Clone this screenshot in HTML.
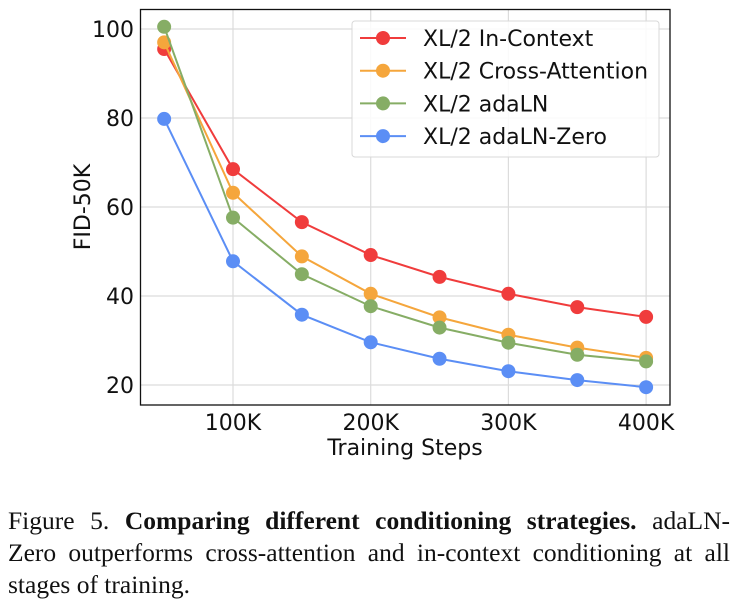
<!DOCTYPE html>
<html><head><meta charset="utf-8"><style>
body{margin:0;background:#fff;width:738px;height:608px;overflow:hidden;position:relative}
svg text{font-family:"DejaVu Sans","Liberation Sans",sans-serif}
#cap{position:absolute;left:8px;top:505px;width:722px;font-family:"Liberation Serif",serif;font-size:25.5px;line-height:32px;color:#111}
#cap .j{text-align:justify;text-align-last:justify;white-space:nowrap}
</style></head><body>
<svg id="chart" width="738" height="470" style="position:absolute;left:0;top:0"></svg>
<div id="cap"><div class="j">Figure 5. <b>Comparing different conditioning strategies.</b> adaLN-</div><div class="j">Zero outperforms cross-attention and in-context conditioning at all</div><div>stages of training.</div></div>
<script>
const steps=[50,100,150,200,250,300,350,400];
const inContext=[95.5,68.5,56.6,49.2,44.3,40.5,37.5,35.3];
const crossAttn=[97,63.2,48.9,40.5,35.2,31.3,28.4,26.1];
const adaLN=[100.5,57.6,44.9,37.7,32.9,29.5,26.8,25.3];
const adaLNZero=[79.8,47.8,35.8,29.6,25.9,23.1,21.1,19.5];
const xTicks=[100,200,300,400];
const xTickLabels=["100K","200K","300K","400K"];
const yTicks=[20,40,60,80,100];
const seriesNames=["XL/2 In-Context","XL/2 Cross-Attention","XL/2 adaLN","XL/2 adaLN-Zero"];
const seriesColors=["#f03c3c","#f5a63c","#86ad65","#5b8ef5"];
const series=[inContext,crossAttn,adaLN,adaLNZero];
const X=v=>233+(v-100)*1.377;
const Y=v=>385-(v-20)*4.45;
const svg=document.getElementById('chart');
const NS='http://www.w3.org/2000/svg';
function mk(t,a,p){const e=document.createElementNS(NS,t);for(const k in a)e.setAttribute(k,a[k]);(p||svg).appendChild(e);return e;}
const L=140.5,R=670,T=9.5,B=405;
xTicks.forEach((v,i)=>{
 const g=mk('line',{x1:X(v),x2:X(v),y1:T,y2:B,stroke:'#dcdcdc','stroke-width':1.2});
 
 
 const t=mk('text',{x:X(v),y:430,'font-size':22,'text-anchor':'middle',fill:'#111'});
 t.textContent=xTickLabels[i];
 
 
});
yTicks.forEach(v=>{
 const g=mk('line',{x1:L,x2:R,y1:Y(v),y2:Y(v),stroke:'#dcdcdc','stroke-width':1.2});
 
 
 const t=mk('text',{x:134,y:Y(v)+8,'font-size':22,'text-anchor':'end',fill:'#111'});
 t.textContent=v;
 
 
});
const fr=mk('rect',{x:L,y:T,width:R-L,height:B-T,fill:'none',stroke:'#111','stroke-width':1.3});


const xl=mk('text',{x:405,y:455,'font-size':22,'text-anchor':'middle',fill:'#111'});xl.textContent='Training Steps';


const yl=mk('text',{x:0,y:0,'font-size':22,'text-anchor':'middle',fill:'#111',transform:'translate(90,207) rotate(-90)'});yl.textContent='FID-50K';


series.forEach((s,i)=>{
 const pl=mk('polyline',{points:s.map((v,j)=>X(steps[j])+','+Y(v)).join(' '),fill:'none',stroke:seriesColors[i],'stroke-width':2});
 
 
 s.forEach((v,j)=>{
  const c=mk('circle',{cx:X(steps[j]),cy:Y(v),r:7,fill:seriesColors[i]});
  
  
 });
});
const lg=mk('rect',{x:352,y:21,width:307,height:136,rx:3,fill:'#fff','fill-opacity':0.85,stroke:'#d8d8d8'});


seriesNames.forEach((n,i)=>{
 const y=38+i*32.7;
 const ln=mk('line',{x1:360,x2:406,y1:y,y2:y,stroke:seriesColors[i],'stroke-width':2});
 
 
 const c=mk('circle',{cx:383,cy:y,r:7,fill:seriesColors[i]});
 
 
 const t=mk('text',{x:423,y:y+8,'font-size':22,fill:'#111'});t.textContent=n;
 
 
});
</script>
</body></html>
